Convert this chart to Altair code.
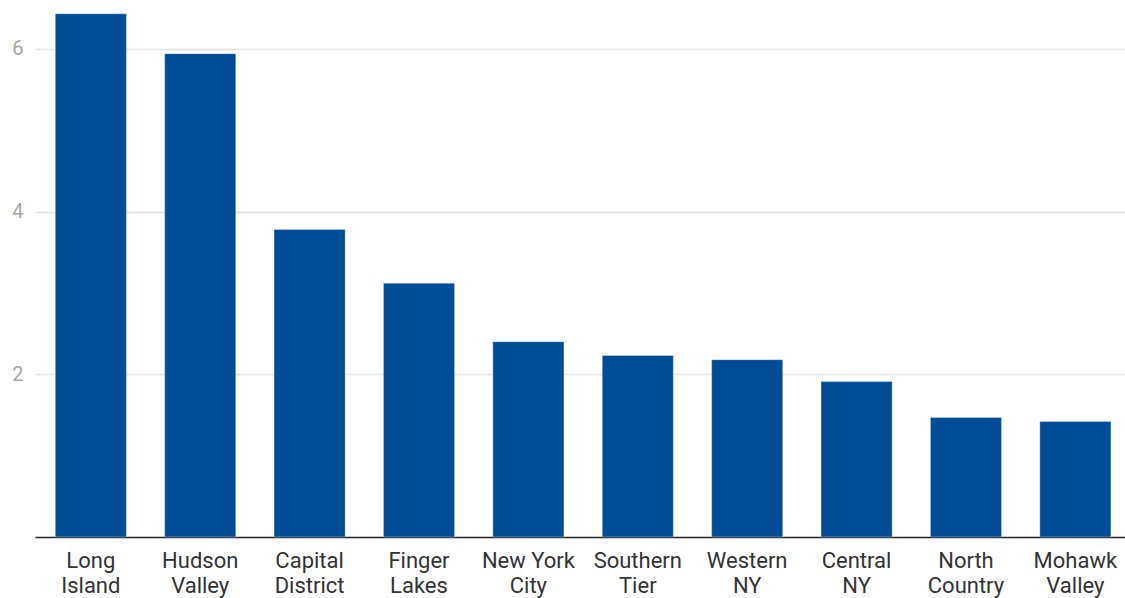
import altair as alt
import pandas as pd

regions = ["Long Island", "Hudson Valley", "Capital District", "Finger Lakes",
           "New York City", "Southern Tier", "Western NY", "Central NY",
           "North Country", "Mohawk Valley"]
values = [6.43, 5.94, 3.78, 3.12, 2.40, 2.23, 2.18, 1.91, 1.47, 1.42]

df = pd.DataFrame({"region": regions, "value": values})

label_expr = ("datum.label == 'New York City' ? ['New York', 'City'] : "
              "split(datum.label, ' ')")

chart = alt.Chart(df).mark_bar(
    color="#014c96", stroke="#ffffff", strokeOpacity=0.35, strokeWidth=1
).encode(
    x=alt.X("region:N", sort=regions, title=None,
            scale=alt.Scale(paddingInner=0.35, paddingOuter=0.157, align=0.59),
            axis=alt.Axis(labelExpr=label_expr, labelAngle=0, ticks=False,
                          domainColor="#222222", domainWidth=1.5,
                          labelFont="Roboto", labelFontSize=22,
                          labelColor="#333333", labelPadding=13,
                          labelLineHeight=25, labelBaseline="top")),
    y=alt.Y("value:Q", title=None,
            scale=alt.Scale(domain=[0, 6.6], nice=False),
            axis=alt.Axis(values=[2, 4, 6], domain=False, ticks=False,
                          labelFont="Roboto", labelFontSize=20,
                          labelColor="#a6a6a6", labelPadding=12,
                          gridColor="#e4e4e4", gridWidth=1.5)),
).properties(
    width=1090, height=537,
    autosize=alt.AutoSizeParams(type="none"),
    padding={"left": 35, "top": 0, "right": 0, "bottom": 61},
).configure_view(stroke=None)

chart.save("out.html", embed_options={"renderer": "svg", "actions": False})
